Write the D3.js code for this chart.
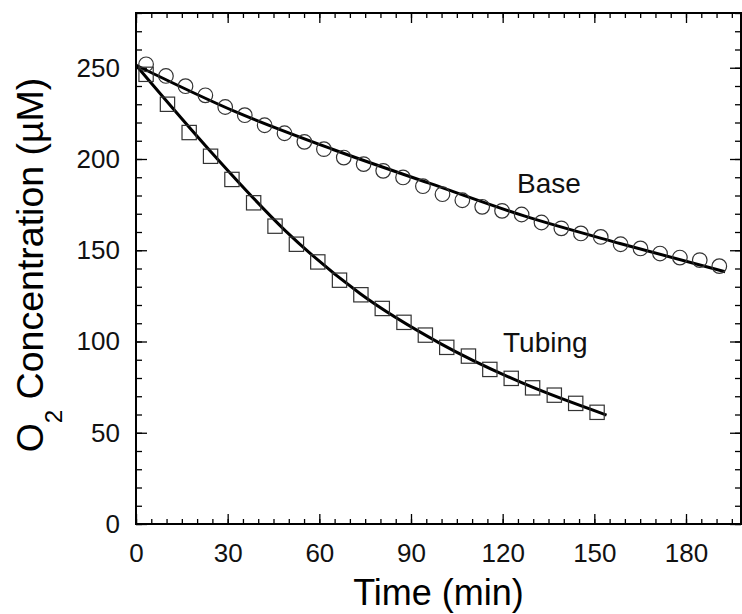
<!DOCTYPE html>
<html>
<head>
<meta charset="utf-8">
<script src="https://cdn.jsdelivr.net/npm/d3@7"></script>
<style>
  body { margin: 0; background: #fff; }
  svg { font-family: "Liberation Sans", Arial, sans-serif; }
</style>
</head>
<body>
<svg id="chart" width="742" height="614"></svg>
<script>
// measured points (time in min, O2 in uM)
var baseTime = [3.3, 9.8, 16.2, 22.7, 29.2, 35.6, 42.1, 48.6, 55.1, 61.5, 68.0, 74.5, 80.9, 87.4, 93.9,
                100.3, 106.8, 113.3, 119.8, 126.2, 132.7, 139.2, 145.6, 152.1, 158.6, 165.1, 171.5, 178.0, 184.5, 190.9];
var baseConc = [251.9, 245.5, 239.9, 234.9, 228.5, 224, 218.5, 214.1, 209.4, 205.4, 200.8, 197.2, 193.5, 189.9, 185.1,
                180.7, 177.4, 173.8, 171.6, 169.6, 165.2, 162, 159.2, 157.3, 153.3, 151, 148.2, 146, 144.6, 141.3];

var tubeTime = [3.3, 10.3, 17.4, 24.4, 31.4, 38.5, 45.5, 52.5, 59.5, 66.6, 73.6, 80.6, 87.7, 94.7, 101.7,
                108.8, 115.8, 122.8, 129.8, 136.9, 143.9, 150.9];
var tubeConc = [246.4, 230, 214.5, 201.5, 188.8, 176, 163.2, 153.3, 143.6, 133.6, 125.6, 118.1, 110.5, 103.5, 96.8,
                92, 84.7, 79.8, 74.6, 70.6, 66.1, 61.2];

// fitted curves
var baseFitTime = [0, 32.7, 64.5, 96.2, 127, 158.4, 192.8];
var baseFitConc = [251.4, 225.8, 205.2, 186.6, 168.8, 153.7, 138.2];
var tubeFitTime = [0, 24.5, 49, 73.3, 99.5, 126.8, 154];
var tubeFitConc = [251.4, 204, 160.5, 126.3, 99, 77, 59.7];

var xTicks = [0, 30, 60, 90, 120, 150, 180];
var yTicks = [0, 50, 100, 150, 200, 250];

var margin = {top: 13, right: 1, bottom: 90, left: 136}
  , width = 742 - margin.left - margin.right
  , height = 614 - margin.top - margin.bottom;

var x = d3.scaleLinear().domain([0, 198]).range([0, width]);
var y = d3.scaleLinear().domain([0, 280]).range([height, 0]);

var svg = d3.select("#chart");
var g = svg.append("g")
    .attr("transform", "translate(" + margin.left + "," + margin.top + ")");

var xMinor = d3.range(0, 199, 5), yMinor = d3.range(0, 281, 10);

function styleAxis(sel) {
  sel.select(".domain").remove();
  sel.selectAll("line").attr("stroke", "#000").attr("stroke-width", 1.3);
  sel.selectAll("text").attr("fill", "#111").attr("font-size", 26);
}

// bottom
g.append("g").attr("transform", "translate(0," + height + ")")
  .call(d3.axisBottom(x).tickValues(xMinor).tickSize(-5).tickFormat("")).call(styleAxis);
g.append("g").attr("transform", "translate(0," + height + ")")
  .call(d3.axisBottom(x).tickValues(xTicks).tickSize(-10).tickPadding(19.5).tickFormat(d3.format("d"))).call(styleAxis);
// top
g.append("g")
  .call(d3.axisTop(x).tickValues(xMinor).tickSize(-5).tickFormat("")).call(styleAxis);
g.append("g")
  .call(d3.axisTop(x).tickValues(xTicks).tickSize(-10).tickFormat("")).call(styleAxis);
// left
g.append("g")
  .call(d3.axisLeft(y).tickValues(yMinor).tickSize(-6).tickFormat("")).call(styleAxis);
g.append("g")
  .call(d3.axisLeft(y).tickValues(yTicks).tickSize(-11).tickPadding(16)).call(styleAxis);
// right
g.append("g").attr("transform", "translate(" + width + ",0)")
  .call(d3.axisRight(y).tickValues(yMinor).tickSize(-6).tickFormat("")).call(styleAxis);
g.append("g").attr("transform", "translate(" + width + ",0)")
  .call(d3.axisRight(y).tickValues(yTicks).tickSize(-11).tickFormat("")).call(styleAxis);

g.append("rect")
  .attr("width", width).attr("height", height)
  .attr("fill", "none").attr("stroke", "#000").attr("stroke-width", 2);

// fit lines
var line = d3.line()
  .x(function(d) { return x(d[0]); })
  .y(function(d) { return y(d[1]); })
  .curve(d3.curveMonotoneX);

g.append("path")
  .datum(d3.zip(baseFitTime, baseFitConc))
  .attr("d", line).attr("fill", "none").attr("stroke", "#000").attr("stroke-width", 3);
g.append("path")
  .datum(d3.zip(tubeFitTime, tubeFitConc))
  .attr("d", line).attr("fill", "none").attr("stroke", "#000").attr("stroke-width", 3);

// markers
g.selectAll("circle.base")
  .data(d3.zip(baseTime, baseConc))
  .enter().append("circle")
  .attr("class", "base")
  .attr("cx", function(d) { return x(d[0]); })
  .attr("cy", function(d) { return y(d[1]); })
  .attr("r", 7.3)
  .attr("fill", "none").attr("stroke", "#333").attr("stroke-width", 1.2);

var s = 14.3;
g.selectAll("rect.tube")
  .data(d3.zip(tubeTime, tubeConc))
  .enter().append("rect")
  .attr("class", "tube")
  .attr("x", function(d) { return x(d[0]) - s / 2; })
  .attr("y", function(d) { return y(d[1]) - s / 2; })
  .attr("width", s).attr("height", s)
  .attr("fill", "none").attr("stroke", "#333").attr("stroke-width", 1.2);

// labels
svg.append("text").attr("x", 517).attr("y", 193).attr("font-size", 28).attr("fill", "#111").text("Base");
svg.append("text").attr("x", 503).attr("y", 352).attr("font-size", 28).attr("fill", "#111").text("Tubing");

svg.append("text")
  .attr("x", margin.left + width / 2).attr("y", 605)
  .attr("text-anchor", "middle").attr("font-size", 36)
  .text("Time (min)");

var yt = svg.append("text")
  .attr("transform", "translate(43,265) rotate(-90)")
  .attr("text-anchor", "middle").attr("font-size", 37.5);
yt.append("tspan").text("O");
yt.append("tspan").attr("font-size", 24).attr("dy", 19).text("2");
yt.append("tspan").attr("dy", -19).text(" Concentration (\u00b5M)");
</script>
</body>
</html>
